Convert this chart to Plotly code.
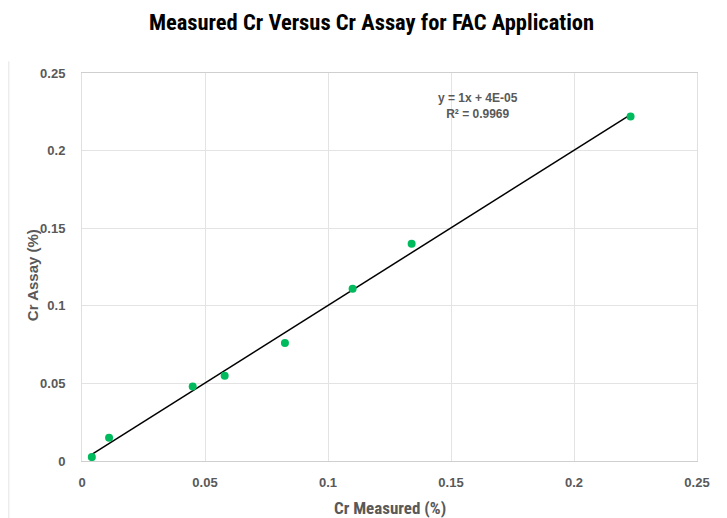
import numpy as np
import plotly.graph_objects as go

cr_measured = [0.004, 0.011, 0.045, 0.058, 0.0825, 0.110, 0.134, 0.223]
cr_assay = [0.0025, 0.015, 0.048, 0.055, 0.076, 0.111, 0.140, 0.222]
title_text = "Measured Cr Versus Cr Assay for FAC Application"
x_title = "Cr Measured (%)"
y_title = "Cr Assay (%)"
eq_text = "y = 1x + 4E-05<br>R² = 0.9969"
tick_vals = [0, 0.05, 0.1, 0.15, 0.2, 0.25]
tick_text = ["0", "0.05", "0.1", "0.15", "0.2", "0.25"]

slope, intercept = np.polyfit(cr_measured, cr_assay, 1)
fit_x = [min(cr_measured), max(cr_measured)]
fit_y = [slope * v + intercept for v in fit_x]

grey = "#595959"
tick_font = "Liberation Sans, Arial"

fig = go.Figure()
fig.add_trace(go.Scatter(x=fit_x, y=fit_y, mode="lines",
                         line=dict(color="black", width=1.5), showlegend=False, hoverinfo="skip"))
fig.add_trace(go.Scatter(x=cr_measured, y=cr_assay, mode="markers",
                         marker=dict(color="#00BA5E", size=8), showlegend=False))

fig.update_layout(
    width=727, height=518,
    margin=dict(l=74, r=38, t=65, b=65),
    paper_bgcolor="white", plot_bgcolor="white",
    title=dict(text="<b>" + title_text + "</b>", x=0.5, xanchor="center", y=0.972, yanchor="middle",
               font=dict(family="Roboto Condensed, Roboto", size=22.5, color="black")),
    xaxis=dict(range=[0, 0.25], tickvals=tick_vals, ticktext=["<b>%s</b>" % t for t in tick_text],
               showgrid=True, gridcolor="#E3E3E3", gridwidth=1,
               showline=True, linecolor="#CFCFCF", linewidth=1, mirror=True, zeroline=False,
               ticks="", ticklabelstandoff=9, automargin=False,
               tickfont=dict(family=tick_font, size=13, color=grey)),
    yaxis=dict(range=[0, 0.25], tickvals=tick_vals, ticktext=["<b>%s</b>" % t for t in tick_text],
               showgrid=True, gridcolor="#E3E3E3", gridwidth=1,
               showline=True, linecolor="#E0E0E0", linewidth=1, mirror=True, zeroline=False,
               ticks="", ticklabelstandoff=13, automargin=False,
               tickfont=dict(family=tick_font, size=13, color=grey)),
)

fig.add_annotation(x=0.5, y=-0.121, xref="paper", yref="paper", text="<b>" + x_title + "</b>",
                   showarrow=False, xanchor="center", yanchor="middle",
                   font=dict(family="Roboto Condensed, Roboto", size=17, color=grey))
fig.add_annotation(x=-0.0813, y=0.479, xref="paper", yref="paper", text="<b>" + y_title + "</b>",
                   showarrow=False, xanchor="center", yanchor="middle", textangle=-90,
                   font=dict(family=tick_font, size=15, color=grey))

fig.add_annotation(x=0.161, y=0.2286, xref="x", yref="y", text="<b>" + eq_text + "</b>",
                   showarrow=False, align="center",
                   font=dict(family="Liberation Sans, Arial", size=12, color=grey))

fig.add_shape(type="line", xref="paper", yref="paper", x0=-0.119, x1=-0.119, y0=-0.15, y1=1.03,
              line=dict(color="#E3E3E3", width=1))

fig.write_html("out.html")
